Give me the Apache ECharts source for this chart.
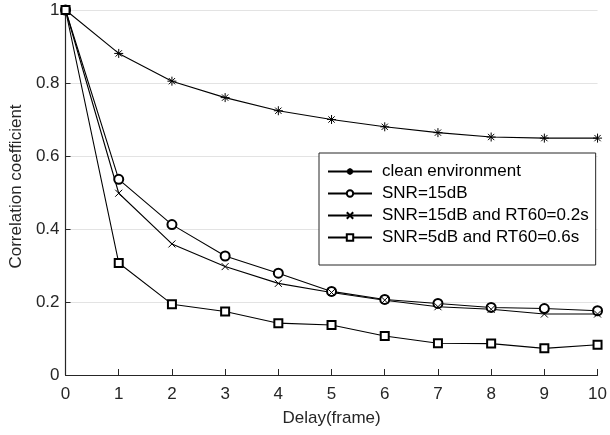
<!DOCTYPE html>
<html>
<head>
<meta charset="utf-8">
<script src="https://cdn.jsdelivr.net/npm/echarts@6/dist/echarts.min.js"></script>
<style>html,body{margin:0;padding:0;background:#fff}#c{width:610px;height:435px}</style>
</head>
<body>
<div id="c"></div>
<script>
const delays = [0,1,2,3,4,5,6,7,8,9,10];
const cleanEnv = [1,0.881,0.805,0.760,0.724,0.700,0.680,0.664,0.652,0.649,0.649];
const snr15 = [1,0.536,0.412,0.326,0.279,0.229,0.207,0.196,0.185,0.182,0.176];
const snr15rt02 = [1,0.498,0.359,0.297,0.251,0.226,0.205,0.187,0.180,0.167,0.167];
const snr5rt06 = [1,0.307,0.194,0.174,0.142,0.137,0.107,0.087,0.086,0.073,0.083];
const seriesNames = ['clean environment','SNR=15dB','SNR=15dB and RT60=0.2s','SNR=5dB and RT60=0.6s'];
const yTicks = [0,0.2,0.4,0.6,0.8,1];

const asterisk = 'path://M5,0L5,10M0,5L10,5M1.5,1.5L8.5,8.5M8.5,1.5L1.5,8.5';
const cross = 'path://M0,0L10,10M10,0L0,10';

function pair(arr){ return delays.map((d,i)=>[d,arr[i]]); }

const font = 'Liberation Sans, Arial, sans-serif';
const chart = echarts.init(document.getElementById('c'), null, {renderer:'canvas'});
const common = {type:'line', lineStyle:{color:'#000',width:1.1}, z:3};
chart.setOption({
  animation:false,
  backgroundColor:'#fff',
  grid:{left:64,right:9,top:10,bottom:60,containLabel:false},
  xAxis:{type:'value',min:0,max:10,interval:1,
    name:'Delay(frame)',nameLocation:'middle',nameGap:35,
    nameTextStyle:{fontFamily:font,fontSize:17,color:'#262626'},
    axisLine:{lineStyle:{color:'#262626',width:1.2}},
    axisTick:{inside:true,length:6,lineStyle:{color:'#262626'}},
    axisLabel:{fontFamily:font,fontSize:17,color:'#262626',margin:11},
    splitLine:{show:false}},
  yAxis:{type:'value',min:0,max:1,interval:0.2,
    name:'Correlation coefficient',nameLocation:'middle',nameGap:36,
    nameTextStyle:{fontFamily:font,fontSize:17,color:'#262626',padding:[0,0,0,12]},
    axisLine:{show:true,lineStyle:{color:'#262626',width:1.2}},
    axisTick:{show:true,inside:true,length:5,lineStyle:{color:'#262626'}},
    axisLabel:{fontFamily:font,fontSize:17,color:'#262626',margin:6,
      formatter:v=>{const t=yTicks.find(x=>Math.abs(x-v)<1e-9);return t===undefined?'':String(t);}},
    splitLine:{show:true,lineStyle:{color:'#e3e3e3',width:1.2}}},
  legend:{orient:'vertical',left:319,top:153,
    backgroundColor:'#fff',borderColor:'#262626',borderWidth:1,borderRadius:0,
    padding:[10,7,19,8],itemGap:5,itemWidth:44,itemHeight:8,
    textStyle:{fontFamily:font,fontSize:17,lineHeight:17,color:'#000',padding:[0,0,0,5]},
    data:seriesNames},
  series:[
    Object.assign({},common,{name:seriesNames[0],data:pair(cleanEnv),symbol:asterisk,symbolSize:9,
      itemStyle:{color:'transparent',borderColor:'#000',borderWidth:1}}),
    Object.assign({},common,{name:seriesNames[1],data:pair(snr15),symbol:'emptyCircle',symbolSize:9,
      itemStyle:{color:'#000',borderWidth:1}}),
    Object.assign({},common,{name:seriesNames[2],data:pair(snr15rt02),symbol:cross,symbolSize:7,
      itemStyle:{color:'transparent',borderColor:'#000',borderWidth:1}}),
    Object.assign({},common,{name:seriesNames[3],data:pair(snr5rt06),symbol:'emptyRect',symbolSize:8,
      itemStyle:{color:'#000',borderWidth:1}})
  ]
});
</script>
</body>
</html>
